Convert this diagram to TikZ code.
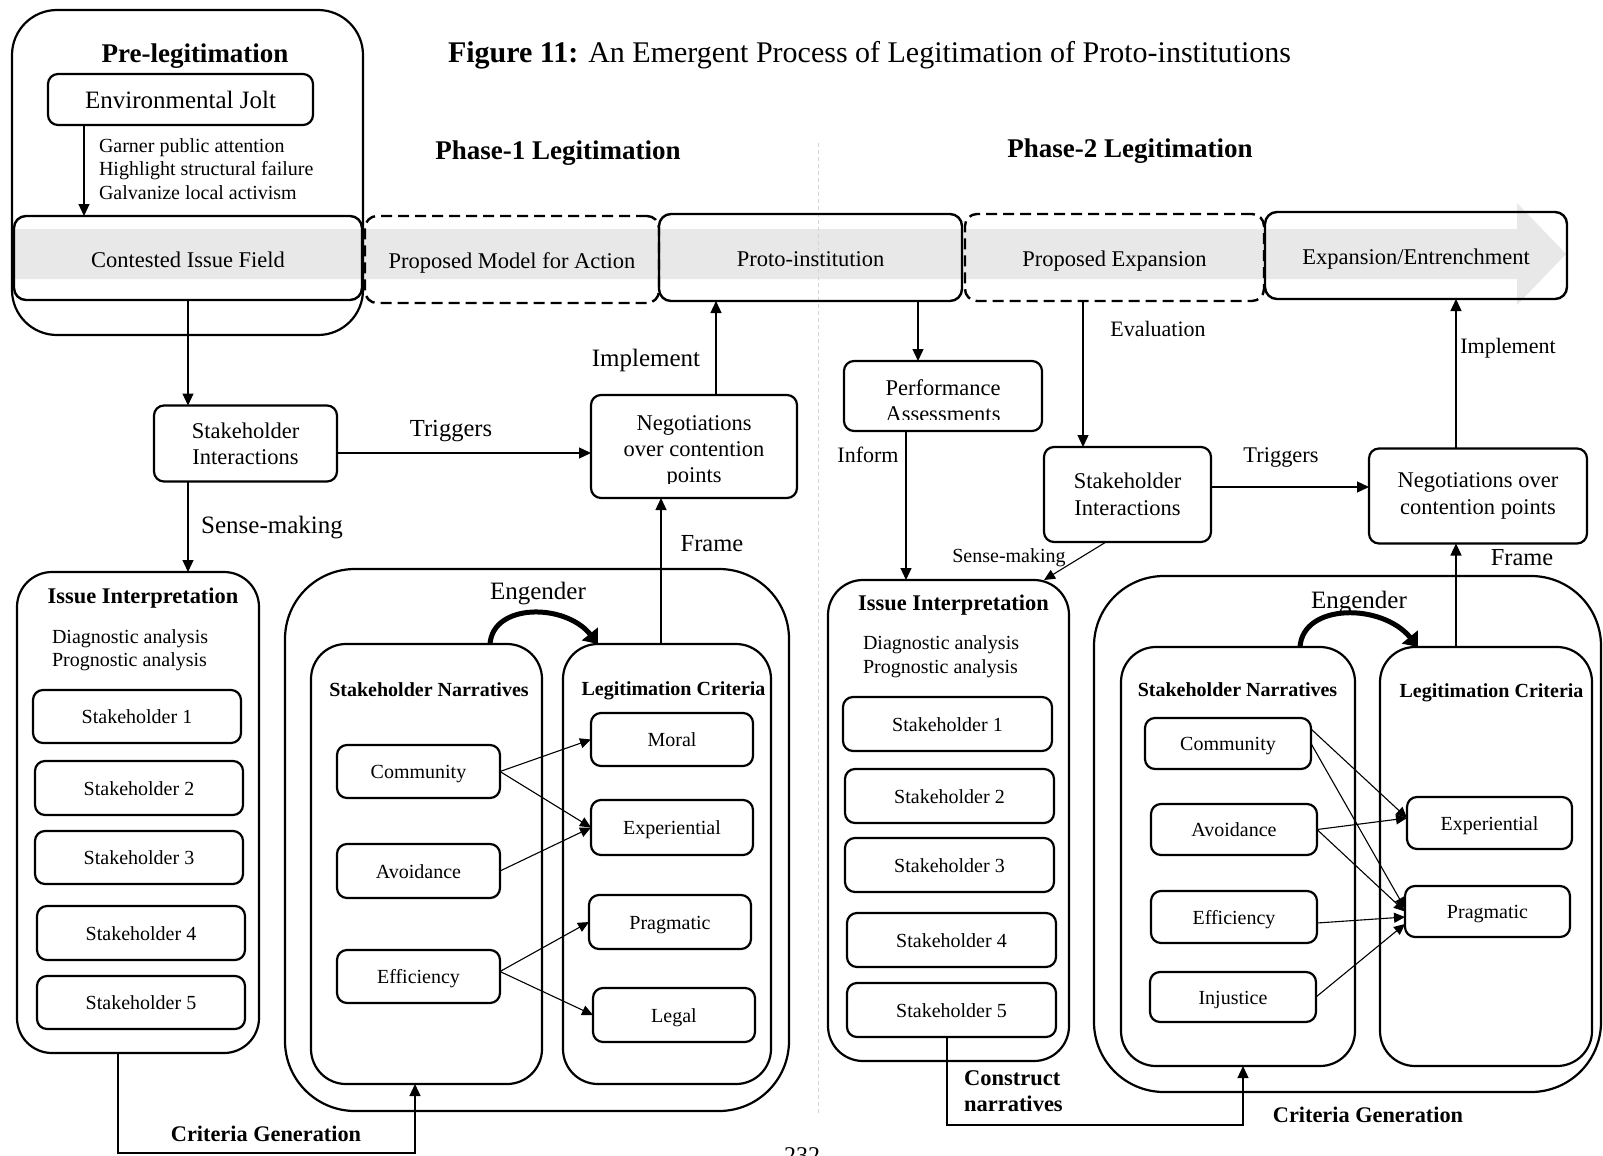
\documentclass[tikz,border=0pt]{standalone}
\usepackage{fontspec}
\setmainfont{Liberation Serif}
\usetikzlibrary{arrows.meta}
\newcommand\fsz[2]{\fontsize{#1}{#2}\selectfont}
\definecolor{bandgray}{RGB}{232,232,232}
\definecolor{sepgray}{RGB}{212,212,212}

\begin{document}
\begin{tikzpicture}[x=1pt,y=-1pt,
  every node/.style={inner sep=0pt, outer sep=0pt, font=\fsz{22.5}{27}},
  wh/.style 2 args={minimum width=#1pt, minimum height=#2pt},
  box/.style={draw, line width=2.2pt, rounded corners=10pt, align=center},
  topbox/.style={box, line width=2.4pt, rounded corners=12pt, text height=18pt, text depth=0pt},
  dbox/.style={topbox, dash pattern=on 11pt off 6pt},
  kbox/.style={box, font=\fsz{20}{24}, text height=14pt, text depth=0pt},
  grp/.style={draw, line width=2.2pt, rounded corners=#1},
  grp/.default=35pt,
  ttl/.style={anchor=base, font=\bfseries\fsz{20}{24}},
  lbl/.style={anchor=base},
  arr/.style={line width=1.3pt, -{Triangle[length=12pt,width=11pt]}},
  thinarr/.style={line width=1.1pt, -{Triangle[length=11pt,width=10pt]}},
  engarr/.style={line width=5pt, -{Triangle[length=13pt,width=20pt]}},
]
\fill[white] (0,0) rectangle (1603,1156);
\useasboundingbox (0,0) rectangle (1603,1156);

% grey process band behind the top row
\fill[bandgray] (15,229) -- (1517,229) -- (1517,203) -- (1566,254)
  -- (1517,305) -- (1517,279) -- (15,279) -- cycle;

% faint divider between the two phases
\draw[sepgray, line width=1pt, dash pattern=on 4pt off 3pt] (818,143) -- (818,1114);

% ---------- titles ----------
\node[lbl, font=\fsz{30}{36}] (fig) at (869.5,63)
  {\textbf{Figure 11:} An Emergent Process of Legitimation of Proto-institutions};
\node[lbl, font=\bfseries\fsz{27}{32}] (ph1) at (558,159) {Phase-1 Legitimation};
\node[lbl, font=\bfseries\fsz{27}{32}] (ph2) at (1130,157) {Phase-2 Legitimation};

% ---------- pre-legitimation ----------
\node[grp=45pt, wh={351}{325}] (pre) at (187.5,172.5) {};
\node[lbl, font=\bfseries\fsz{27}{32}] (pretitle) at (195,63) {Pre-legitimation};
\node[box, wh={265}{51}, font=\fsz{25}{30}] (jolt) at (180.5,99.5) {Environmental Jolt};
\node[anchor=base west, font=\fsz{20}{24}] (g1) at (99,152) {Garner public attention};
\node[anchor=base west, font=\fsz{20}{24}] (g2) at (99,175) {Highlight structural failure};
\node[anchor=base west, font=\fsz{20}{24}] (g3) at (99,199) {Galvanize local activism};

% ---------- top row ----------
\node[topbox, wh={348}{84}] (contested) at (188,258) {Contested Issue Field};
\node[dbox, wh={294}{87}] (pmodel) at (512,259.5) {Proposed Model for Action};
\node[topbox, wh={303}{87}] (proto) at (810.5,257.5) {Proto-institution};
\node[dbox, wh={299}{87}] (pexp) at (1114.5,257.5) {Proposed Expansion};
\node[topbox, wh={302}{87}] (expent) at (1416,255.5) {Expansion/Entrenchment};

% ---------- phase 1 ----------
\node[box, wh={183}{76}, font=\fsz{22.5}{26}] (si1) at (245.5,443.5) {Stakeholder\\Interactions};
\node[box, wh={206}{103}] (neg1) at (694,446.5) {};
\begin{scope}
  \clip (neg1.north west) rectangle ([yshift=15pt]neg1.south east);
  \node[lbl] (neg1a) at (694,430) {Negotiations};
  \node[lbl] (neg1b) at (694,456) {over contention};
  \node[lbl] (neg1c) at (694,482) {points};
\end{scope}
\node[lbl, font=\fsz{25}{30}] (impl1) at (646,366) {Implement};
\node[lbl, font=\fsz{24.5}{29}] (trig1) at (451,436.5) {Triggers};
\node[lbl, font=\fsz{25}{30}] (sm1) at (272,533.5) {Sense-making};
\node[lbl, font=\fsz{24.5}{29}] (frame1) at (712,551) {Frame};

% issue interpretation (phase 1)
\node[grp, wh={242}{481}] (leftii) at (138,812.5) {};
\node[ttl, font=\bfseries\fsz{22.4}{27}] (leftiit) at (143,603) {Issue Interpretation};
\node[anchor=base west, font=\fsz{20}{24}] (diag1) at (52,643) {Diagnostic analysis};
\node[anchor=base west, font=\fsz{20}{24}] (prog1) at (52,666) {Prognostic analysis};
\node[kbox, wh={208}{53}] (k1) at (137,716.5) {Stakeholder 1};
\node[kbox, wh={208}{54}] (k2) at (139,788) {Stakeholder 2};
\node[kbox, wh={208}{53}] (k3) at (139,857.5) {Stakeholder 3};
\node[kbox, wh={208}{54}] (k4) at (141,933) {Stakeholder 4};
\node[kbox, wh={208}{53}] (k5) at (141,1002.5) {Stakeholder 5};

% narratives and criteria (phase 1)
\node[grp=70pt, wh={504}{542}] (eng1) at (537,840) {};
\node[grp, wh={231}{440}] (sn1) at (426.5,864) {};
\node[grp, wh={208}{440}] (lc1) at (667,864) {};
\node[ttl] (sn1t) at (429,696) {Stakeholder Narratives};
\node[ttl] (lc1t) at (673.5,695) {Legitimation Criteria};
\node[lbl, font=\fsz{25}{30}] (eng1t) at (538,599) {Engender};
\node[kbox, wh={163}{53}] (com1) at (418.5,771.5) {Community};
\node[kbox, wh={163}{54}] (avo1) at (418.5,871) {Avoidance};
\node[kbox, wh={163}{53}] (eff1) at (418.5,976.5) {Efficiency};
\node[kbox, wh={162}{53}] (mor) at (672,739.5) {Moral};
\node[kbox, wh={162}{55}] (exp1) at (672,827.5) {Experiential};
\node[kbox, wh={162}{54}] (pra1) at (670,922) {Pragmatic};
\node[kbox, wh={162}{54}] (leg) at (674,1015) {Legal};
\node[lbl, font=\bfseries\fsz{22.3}{27}] (cg1) at (266,1141) {Criteria Generation};

% ---------- phase 2 ----------
\node[box, wh={198}{70}] (perf) at (943,396) {};
\begin{scope}
  \clip (perf.north west) rectangle ([yshift=12pt]perf.south east);
  \node[lbl] (perfa) at (943,395) {Performance};
  \node[lbl] (perfb) at (943,421.5) {Assessments};
\end{scope}
\node[lbl, font=\fsz{22}{26}] (inform) at (868,462) {Inform};
\node[box, wh={167}{95}, font=\fsz{22.5}{27}] (si2) at (1127.5,494.5) {Stakeholder\\Interactions};
\node[box, wh={218}{95}, font=\fsz{22.5}{27}] (neg2) at (1478,496) {Negotiations over\\contention points};
\node[lbl, font=\fsz{22}{26}] (eval) at (1158,336) {Evaluation};
\node[lbl, font=\fsz{22.4}{26}] (trig2) at (1281,462) {Triggers};
\node[lbl, font=\fsz{22}{26}] (impl2) at (1508,353) {Implement};
\node[lbl, font=\fsz{24.4}{29}] (frame2) at (1522,565) {Frame};
\node[lbl, font=\fsz{20}{24}] (sm2) at (1009,562) {Sense-making};

% issue interpretation (phase 2)
\node[grp, wh={241}{481}] (rightii) at (948.5,820.5) {};
\node[ttl, font=\bfseries\fsz{22.4}{27}] (rightiit) at (953.5,610) {Issue Interpretation};
\node[anchor=base west, font=\fsz{20}{24}] (diag2) at (863,649) {Diagnostic analysis};
\node[anchor=base west, font=\fsz{20}{24}] (prog2) at (863,673) {Prognostic analysis};
\node[kbox, wh={209}{54}] (rk1) at (947.5,724) {Stakeholder 1};
\node[kbox, wh={209}{54}] (rk2) at (949.5,796) {Stakeholder 2};
\node[kbox, wh={209}{54}] (rk3) at (949.5,865) {Stakeholder 3};
\node[kbox, wh={209}{54}] (rk4) at (951.5,940) {Stakeholder 4};
\node[kbox, wh={209}{54}] (rk5) at (951.5,1010) {Stakeholder 5};
\node[anchor=base west, font=\bfseries\fsz{22.5}{27}] (cn1) at (964,1085) {Construct};
\node[anchor=base west, font=\bfseries\fsz{22.5}{27}] (cn2) at (964,1111) {narratives};

% narratives and criteria (phase 2)
\node[grp=70pt, wh={507}{516}] (eng2) at (1347.5,834) {};
\node[grp, wh={234}{419}] (sn2) at (1238,856.5) {};
\node[grp, wh={212}{419}] (lc2) at (1486,856.5) {};
\node[ttl] (sn2t) at (1237.5,696) {Stakeholder Narratives};
\node[ttl] (lc2t) at (1491.5,697) {Legitimation Criteria};
\node[lbl, font=\fsz{25}{30}] (eng2t) at (1359,608) {Engender};
\node[kbox, wh={166}{51}] (com2) at (1228,743.5) {Community};
\node[kbox, wh={166}{51}] (avo2) at (1234,829.5) {Avoidance};
\node[kbox, wh={166}{52}] (eff2) at (1234,917) {Efficiency};
\node[kbox, wh={166}{50}] (inj) at (1233,997) {Injustice};
\node[kbox, wh={165}{52}] (exp2) at (1489.5,823) {Experiential};
\node[kbox, wh={165}{51}] (pra2) at (1487.5,911.5) {Pragmatic};
\node[lbl, font=\bfseries\fsz{22.3}{27}] (cg2) at (1368,1122) {Criteria Generation};

% page number at the cut-off foot
\node[anchor=north, font=\fsz{24}{28}] (pg) at (802,1148) {232};

% ---------- connectors ----------
\draw[arr] ([xshift=-96.5pt]jolt.south) -- ([xshift=-104pt]contested.north);
\draw[arr] (contested.south) -- (si1.north -| contested.south);
\draw[arr] (si1.south -| contested.south) -- (leftii.north -| contested.south);
\draw[arr] ([yshift=-9.5pt]si1.east) -- ([yshift=-6.5pt]neg1.west);
\draw[arr] ([xshift=22pt]neg1.north) -- ([xshift=-94.5pt]proto.south);
\draw[arr] ([xshift=-6pt]lc1.north) -- ([xshift=-33pt]neg1.south);
\draw[arr] ([xshift=-20pt]leftii.south) -- ++(0,100) -| ([xshift=-11.5pt]sn1.south);
\draw[engarr] ([xshift=63.5pt]sn1.north) .. controls +(3,-41) and +(-33,-41) .. ([xshift=-69pt]lc1.north);

\draw[thinarr] (com1.east) -- (mor.west);
\draw[thinarr] (com1.east) -- (exp1.west);
\draw[thinarr] (avo1.east) -- (exp1.west);
\draw[thinarr] ([yshift=5pt]eff1.east) -- (pra1.west);
\draw[thinarr] ([yshift=5pt]eff1.east) -- (leg.west);

\draw[arr] ([xshift=107.5pt]proto.south) -- ([xshift=-25pt]perf.north);
\draw[arr] ([xshift=-37pt]perf.south) -- ([xshift=-42.5pt]rightii.north);
\draw[arr] ([xshift=-31.5pt]pexp.south) -- ([xshift=-44.5pt]si2.north);
\draw[arr] ([yshift=7.5pt]si2.east) -- ([yshift=9pt]neg2.west);
\draw[arr] ([xshift=-22pt]neg2.north) -- ([xshift=40pt]expent.south);
\draw[arr] ([xshift=-30pt]lc2.north) -- ([xshift=-22pt]neg2.south);
\draw[line width=1.1pt, -{Triangle[length=11pt,width=10pt]}] ([xshift=-21.5pt]si2.south) -- ([xshift=95.5pt]rightii.north);
\draw[arr] ([xshift=-4.5pt]rk5.south) -- ++(0,88) -| ([xshift=5pt]sn2.south);
\draw[engarr] ([xshift=62pt]sn2.north) .. controls +(3,-44) and +(-36,-44) .. ([xshift=-68pt]lc2.north);

\draw[thinarr] ([yshift=14.5pt]com2.east) -- ([yshift=5pt]exp2.west);
\draw[thinarr] (com2.east) -- ([yshift=3pt]pra2.west);
\draw[thinarr] (avo2.east) -- ([yshift=5pt]exp2.west);
\draw[thinarr] (avo2.east) -- (pra2.west);
\draw[thinarr] ([yshift=-6pt]eff2.east) -- ([yshift=-5.5pt]pra2.west);
\draw[thinarr] (inj.east) -- ([yshift=-12.5pt]pra2.west);
\end{tikzpicture}
\end{document}
